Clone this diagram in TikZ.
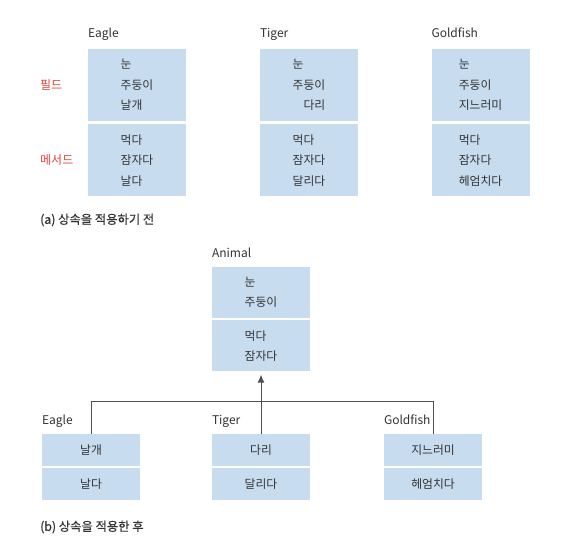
\documentclass[tikz,border=0pt]{standalone}
\usepackage{fontspec}
\setmainfont{Noto Sans CJK KR}
\newfontfamily\capfont[FakeBold=0.6]{Noto Sans CJK KR}
\usetikzlibrary{positioning,arrows.meta}
\definecolor{boxblue}{RGB}{200,220,240}
\definecolor{txtgray}{RGB}{50,50,50}
\definecolor{lblred}{RGB}{232,66,60}
\definecolor{linegray}{RGB}{80,80,80}
\tikzset{
membox/.style={fill=boxblue, inner sep=0pt, minimum width=98pt, text=txtgray, font=\fontsize{11.8}{20.5}\selectfont, align=left},
tallbox/.style={membox, minimum height=72pt},
midbox/.style={membox, minimum height=51pt},
lowbox/.style={membox, minimum height=32pt, align=center},
classname/.style={text=txtgray, font=\fontsize{12}{14}\selectfont, inner sep=0pt},
sectlabel/.style={text=lblred, font=\fontsize{12}{14}\selectfont, inner sep=0pt},
capnote/.style={text=txtgray, font=\capfont\fontsize{12.3}{14}\selectfont, inner sep=0pt},
wire/.style={draw=linegray, line width=1pt}
}

\begin{document}
\begin{tikzpicture}[x=1pt,y=-1pt]
	\useasboundingbox (0,0) rectangle (577,553);
	\coordinate (lblX) at (40,0);

	% (a) before inheritance
	\node[tallbox] (eagleF) at (137,85) {눈\\주둥이\\날개};
	\node[tallbox, below=3pt of eagleF] (eagleM) {먹다\\잠자다\\날다};
	\node[tallbox] (tigerF) at (309,85) {눈\\주둥이\\\hphantom{주}다리};
	\node[tallbox, below=3pt of tigerF] (tigerM) {먹다\\잠자다\\달리다};
	\node[tallbox] (goldF) at (480.5,85) {눈\\주둥이\\지느러미};
	\node[tallbox, below=3pt of goldF] (goldM) {먹다\\잠자다\\헤엄치다};
	\foreach \n/\t in {eagle/Eagle, tiger/Tiger, gold/Goldfish}
		\node[classname, anchor=base west] (\n N) at ([yshift=11pt]\n F.north west) {\t};
	\node[sectlabel, anchor=west] (fieldLbl) at (lblX |- eagleF) {필드};
	\node[sectlabel, anchor=west] (methodLbl) at (lblX |- eagleM) {메서드};
	\node[capnote, anchor=west] (capA) at (lblX |- 0,220) {(a) 상속을 적용하기 전};

	% (b) after inheritance
	\node[midbox] (animalF) at (261,292.5) {눈\\주둥이};
	\node[midbox, below=2pt of animalF] (animalM) {먹다\\잠자다};
	\node[classname, anchor=base west] (animalN) at ([yshift=9pt]animalF.north west) {Animal};
	\node[lowbox] (eagleF2) at (91,450) {날개};
	\node[lowbox, below=2pt of eagleF2] (eagleM2) {날다};
	\node[lowbox] (tigerF2) at (261,450) {다리};
	\node[lowbox, below=2pt of tigerF2] (tigerM2) {달리다};
	\node[lowbox] (goldF2) at (433,450) {지느러미};
	\node[lowbox, below=2pt of goldF2] (goldM2) {헤엄치다};
	\foreach \n/\t in {eagle/Eagle, tiger/Tiger, gold/Goldfish}
		\node[classname, anchor=base west] (\n N2) at ([yshift=9pt]\n F2.north west) {\t};

	\draw[wire, -{Latex[length=8pt,width=7pt]}, shorten >=3pt] (tigerF2.north) -- (tigerF2.north |- animalM.south);
	\draw[wire] (eagleF2.north) |- ([yshift=32pt]tigerF2.north) -| (goldF2.north);
	\node[capnote, anchor=west] (capB) at (lblX |- 0,527) {(b) 상속을 적용한 후};
\end{tikzpicture}
\end{document}
